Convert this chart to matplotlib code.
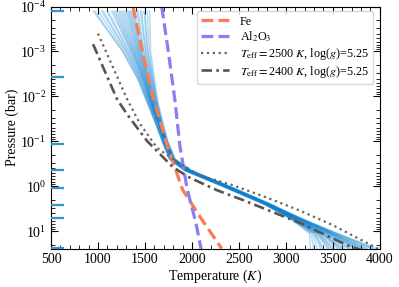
import numpy as np
import matplotlib
matplotlib.use('Agg')
import matplotlib.pyplot as plt

plt.rcParams['font.family'] = 'serif'
plt.rcParams['font.serif'] = ['Liberation Serif', 'DejaVu Serif']
plt.rcParams['mathtext.fontset'] = 'stix'

# pressure nodes of the retrieval (bar) - blue marks on left axis
node_pres = [1.27e-4, 3.7e-3, 0.113, 0.43, 1.08, 2.6, 5.2, 23.8]

# retrieved T-P profiles, T (K) at these pressures
tp_pres = [1.26e-4, 1e-3, 4e-3, 1.26e-2, 0.1, 0.25, 0.45, 1.0, 2.5, 5.6, 11.2, 24.5]
tp_temps = [
    [950, 1260, 1420, 1515, 1696, 1774, 1940, 2340, 2780, 3144, 3430, 3690],
    [1002, 1284, 1433, 1524, 1683, 1761, 1924, 2324, 2764, 3088, 3310, 3404],
    [1055, 1308, 1447, 1533, 1716, 1794, 1965, 2365, 2805, 3193, 3535, 3935],
    [1107, 1332, 1460, 1542, 1681, 1759, 1921, 2321, 2761, 3060, 3250, 3260],
    [1160, 1356, 1474, 1551, 1712, 1790, 1960, 2360, 2800, 3158, 3460, 3760],
    [1195, 1372, 1483, 1557, 1700, 1778, 1945, 2345, 2785, 3109, 3355, 3512],
    [1230, 1388, 1492, 1563, 1722, 1800, 1972, 2372, 2812, 3179, 3505, 3865],
    [1265, 1404, 1501, 1569, 1710, 1788, 1958, 2358, 2798, 3130, 3400, 3620],
    [1300, 1420, 1510, 1575, 1696, 1774, 1940, 2340, 2780, 3074, 3280, 3332],
    [1325, 1434, 1519, 1581, 1724, 1802, 1975, 2375, 2815, 3165, 3475, 3795],
    [1350, 1448, 1528, 1587, 1714, 1792, 1962, 2362, 2802, 3123, 3385, 3584],
    [1375, 1462, 1537, 1593, 1738, 1816, 1992, 2392, 2832, 3200, 3550, 3970],
    [1412, 1483, 1550, 1602, 1711, 1789, 1959, 2359, 2799, 3095, 3325, 3440],
    [1450, 1504, 1564, 1611, 1730, 1808, 1982, 2382, 2822, 3151, 3445, 3725],
    [1500, 1532, 1582, 1623, 1724, 1802, 1975, 2375, 2815, 3116, 3370, 3548],
    [1550, 1560, 1600, 1635, 1744, 1822, 2000, 2400, 2840, 3172, 3490, 3830],
    [967, 1268, 1424, 1518, 1685, 1763, 1926, 2326, 2766, 3102, 3340, 3476],
    [1037, 1300, 1442, 1530, 1699, 1777, 1944, 2344, 2784, 3137, 3415, 3655],
    [1090, 1324, 1456, 1539, 1716, 1794, 1965, 2365, 2805, 3186, 3520, 3900],
    [1143, 1348, 1470, 1548, 1689, 1767, 1931, 2331, 2771, 3081, 3295, 3368],
    [1178, 1364, 1479, 1554, 1716, 1794, 1965, 2365, 2805, 3169, 3483, 3813],
    [1213, 1380, 1488, 1560, 1704, 1782, 1950, 2350, 2790, 3120, 3378, 3566],
    [1248, 1396, 1497, 1566, 1716, 1794, 1965, 2365, 2805, 3155, 3453, 3743],
    [1283, 1412, 1506, 1572, 1702, 1780, 1948, 2348, 2788, 3099, 3333, 3458],
    [1313, 1427, 1515, 1578, 1730, 1808, 1982, 2382, 2822, 3190, 3528, 3918],
    [1338, 1441, 1524, 1584, 1697, 1775, 1941, 2341, 2781, 3067, 3265, 3296],
    [1363, 1455, 1533, 1590, 1720, 1798, 1970, 2370, 2810, 3141, 3423, 3673],
    [1388, 1469, 1542, 1596, 1712, 1790, 1960, 2360, 2800, 3106, 3348, 3494],
    [1425, 1490, 1555, 1605, 1735, 1813, 1989, 2389, 2829, 3176, 3498, 3848],
    [1463, 1511, 1569, 1614, 1724, 1802, 1975, 2375, 2815, 3127, 3393, 3602],
    [1488, 1525, 1578, 1620, 1736, 1814, 1990, 2390, 2830, 3162, 3468, 3778],
    [1525, 1546, 1591, 1629, 1717, 1795, 1966, 2366, 2806, 3085, 3303, 3386],
]

# condensation curves
fe_T = [1372, 1482, 1590, 1731, 1900, 2085, 2316]
fe_P = [1e-4, 1.3e-3, 1.1e-2, 0.115, 1.2, 4.8, 24.5]
al_T = [1678, 1748, 1819, 1872, 1950, 2040, 2096]
al_P = [1e-4, 1e-3, 1.25e-2, 0.13, 1.2, 6.3, 24.5]

# self-consistent models
m2500_T = [1000, 1309, 1447, 1628, 1819, 2085, 2436, 2798, 3149, 3500, 4000]
m2500_P = [4e-4, 1.15e-2, 4.1e-2, 0.14, 0.27, 0.58, 0.95, 1.8, 3.5, 7.4, 26]
m2400_T = [947, 1202, 1309, 1521, 1798, 1979, 2266, 2543, 3149, 3649, 3790]
m2400_P = [6.9e-4, 1.15e-2, 2.5e-2, 0.098, 0.38, 0.65, 1.23, 2.04, 6.6, 20.5, 26]

fig, ax = plt.subplots(figsize=(3.99, 2.87), dpi=100)
fig.subplots_adjust(left=0.128, right=0.952, top=0.977, bottom=0.134)

for temps in tp_temps:
    ax.plot(temps, tp_pres, color='#0b80d0', alpha=0.3, lw=1.0, zorder=1)

ax.hlines(node_pres, 500, 640, color='#2f93d6', lw=1.6, zorder=3)

ax.plot(fe_T, fe_P, color='#f97d52', lw=2.3, ls='--', label='Fe', zorder=2)
ax.plot(al_T, al_P, color='#8e7cf6', lw=2.3, ls='--', label=r'Al$_2$O$_3$', zorder=2)
ax.plot(m2500_T, m2500_P, color='#666666', lw=1.6, ls=':',
        label=r'$T_{\rm eff}=$2500 $K$, log($g$)=5.25', zorder=4)
ax.plot(m2400_T, m2400_P, color='#555555', lw=1.9, dashes=(4, 1.6, 1, 1.6),
        label=r'$T_{\rm eff}=$2400 $K$, log($g$)=5.25', zorder=4)

ax.set_yscale('log')
ax.set_xlim(500, 4000)
ax.set_ylim(24.5, 1e-4)
ax.set_xlabel(r'Temperature ($K$)', fontsize=10, labelpad=1)
ax.set_ylabel('Pressure (bar)', fontsize=10, labelpad=1)
ax.xaxis.set_minor_locator(matplotlib.ticker.MultipleLocator(100))
ax.tick_params(which='both', direction='in', top=True, right=True, labelsize=10)
ax.tick_params(which='major', length=5)
ax.tick_params(which='minor', length=3)

ax.legend(loc='upper right', bbox_to_anchor=(0.979, 0.98), borderaxespad=0,
          fontsize=8.7, handlelength=2.3, labelspacing=0.15,
          borderpad=0.35, handletextpad=0.9)

fig.savefig('out.png', dpi=100)
